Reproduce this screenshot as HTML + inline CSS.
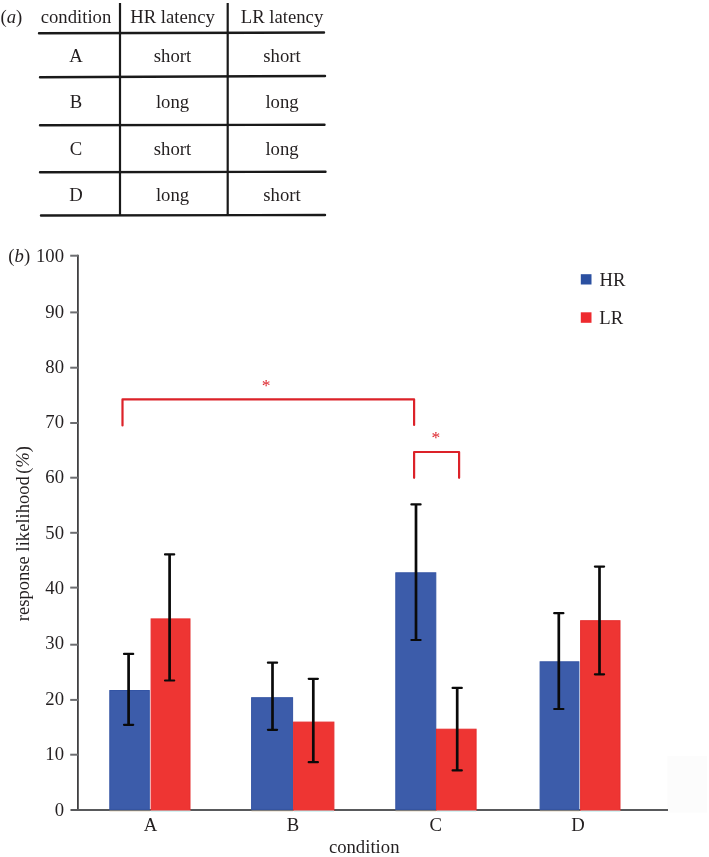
<!DOCTYPE html>
<html>
<head>
<meta charset="utf-8">
<title>Figure</title>
<style>
html,body{margin:0;padding:0;background:#fff;}
body{width:709px;height:857px;overflow:hidden;}
svg{display:block;will-change:transform;}
text{font-family:"Liberation Serif","Times New Roman",serif;font-size:18.7px;fill:#231f20;}
.i{font-style:italic;}
.m{text-anchor:middle;}
.e{text-anchor:end;}
</style>
</head>
<body>
<svg width="709" height="857" viewBox="0 0 709 857">
<rect width="709" height="857" fill="#fff"/>

<!-- (a) table -->
<text x="0.5" y="23.3">(<tspan class="i">a</tspan>)</text>
<g stroke="#1a1a1a" stroke-width="2.4" stroke-linecap="round" fill="none">
  <line x1="39" y1="33.3" x2="324" y2="32.5"/>
  <line x1="40" y1="77.3" x2="325" y2="76"/>
  <line x1="40" y1="125.2" x2="324.5" y2="124.8"/>
  <line x1="40" y1="172.2" x2="325.5" y2="171.8"/>
  <line x1="41" y1="215.5" x2="325" y2="215"/>
</g>
<g stroke="#1a1a1a" stroke-width="2.2" fill="none">
  <line x1="120" y1="3" x2="120" y2="215"/>
  <line x1="227.7" y1="3" x2="227.7" y2="215"/>
</g>
<text x="76" y="23.4" class="m">condition</text>
<text x="172.5" y="23.4" class="m">HR latency</text>
<text x="282" y="23.4" class="m">LR latency</text>
<text x="76" y="62" class="m">A</text>
<text x="172.5" y="62" class="m">short</text>
<text x="282" y="62" class="m">short</text>
<text x="76" y="108" class="m">B</text>
<text x="172.5" y="108" class="m">long</text>
<text x="282" y="108" class="m">long</text>
<text x="76" y="155" class="m">C</text>
<text x="172.5" y="155" class="m">short</text>
<text x="282" y="155" class="m">long</text>
<text x="76" y="201.1" class="m">D</text>
<text x="172.5" y="201.1" class="m">long</text>
<text x="282" y="201.1" class="m">short</text>

<!-- (b) chart -->
<text x="8.3" y="262.2">(<tspan class="i">b</tspan>)</text>

<rect x="667.5" y="756" width="39.5" height="56.5" fill="#fcfcfc"/>


<!-- axes -->
<line x1="77.9" y1="254.8" x2="77.9" y2="810.9" stroke="#414042" stroke-width="1.8"/>
<line x1="70.5" y1="810" x2="668" y2="810" stroke="#58595b" stroke-width="1.8"/>
<g stroke="#6d6e71" stroke-width="2">
  <line x1="70.2" y1="255.7" x2="78" y2="255.7"/>
  <line x1="70.2" y1="312.4" x2="78" y2="312.4"/>
  <line x1="70.2" y1="367.7" x2="78" y2="367.7"/>
  <line x1="70.2" y1="423.0" x2="78" y2="423.0"/>
  <line x1="70.2" y1="477.7" x2="78" y2="477.7"/>
  <line x1="70.2" y1="532.8" x2="78" y2="532.8"/>
  <line x1="70.2" y1="587.6" x2="78" y2="587.6"/>
  <line x1="70.2" y1="644.7" x2="78" y2="644.7"/>
  <line x1="70.2" y1="699.9" x2="78" y2="699.9"/>
  <line x1="70.2" y1="754.7" x2="78" y2="754.7"/>
</g>
<g class="e">
  <text x="64" y="262.1" class="e">100</text>
  <text x="64" y="317.7" class="e">90</text>
  <text x="64" y="372.8" class="e">80</text>
  <text x="64" y="428.3" class="e">70</text>
  <text x="64" y="483.2" class="e">60</text>
  <text x="64" y="538.6" class="e">50</text>
  <text x="64" y="593.8" class="e">40</text>
  <text x="64" y="649.4" class="e">30</text>
  <text x="64" y="704.6" class="e">20</text>
  <text x="64" y="760.1" class="e">10</text>
  <text x="64" y="815.5" class="e">0</text>
</g>

<!-- bars -->
<g>
  <rect x="109.8" y="690.5" width="39.5" height="118.9" fill="#3c5caa" stroke="#3354a4" stroke-width="1"/>
  <rect x="151.1" y="618.9" width="38.9" height="191.6" fill="#ee3533" stroke="#e62f2f" stroke-width="1"/>
  <rect x="251.6" y="697.7" width="41.0" height="111.7" fill="#3c5caa" stroke="#3354a4" stroke-width="1"/>
  <rect x="293.6" y="722.1" width="40.3" height="88.4" fill="#ee3533" stroke="#e62f2f" stroke-width="1"/>
  <rect x="395.8" y="572.8" width="40.0" height="236.6" fill="#3c5caa" stroke="#3354a4" stroke-width="1"/>
  <rect x="436.5" y="729.2" width="39.6" height="81.3" fill="#ee3533" stroke="#e62f2f" stroke-width="1"/>
  <rect x="540.1" y="661.8" width="38.8" height="147.6" fill="#3c5caa" stroke="#3354a4" stroke-width="1"/>
  <rect x="580.6" y="620.7" width="39.4" height="189.8" fill="#ee3533" stroke="#e62f2f" stroke-width="1"/>
</g>
<g stroke-width="1.1">
  <path d="M150.5 811.1H190.5M293.5 811.1H334M436.5 811.1H476.3M580.5 811.1H620.3" stroke="#c4eeee"/>
  <path d="M109.5 811.4H150M251.5 811.4H293M395.5 811.4H436M540 811.4H579.5" stroke="#efe9df"/>
</g>

<!-- error bars -->
<g stroke="#0a0a0a" fill="none">
  <g stroke-width="2.7">
    <line x1="128.6" y1="653.9" x2="128.6" y2="724.8"/>
    <line x1="169.6" y1="554.4" x2="169.6" y2="680.5"/>
    <line x1="272.5" y1="662.7" x2="272.5" y2="729.8"/>
    <line x1="313.3" y1="678.8" x2="313.3" y2="762.2"/>
    <line x1="416" y1="504.4" x2="416" y2="640"/>
    <line x1="457.2" y1="687.9" x2="457.2" y2="770.4"/>
    <line x1="558.8" y1="613.2" x2="558.8" y2="709"/>
    <line x1="599.5" y1="566.6" x2="599.5" y2="674.3"/>
  </g>
  <g stroke-width="2.2" stroke-linecap="round">
    <path d="M124.0 653.9h9.2M124.0 724.8h9.2"/>
    <path d="M165.0 554.4h9.2M165.0 680.5h9.2"/>
    <path d="M267.9 662.7h9.2M267.9 729.8h9.2"/>
    <path d="M308.7 678.8h9.2M308.7 762.2h9.2"/>
    <path d="M411.4 504.4h9.2M411.4 640h9.2"/>
    <path d="M452.6 687.9h9.2M452.6 770.4h9.2"/>
    <path d="M554.2 613.2h9.2M554.2 709h9.2"/>
    <path d="M594.9 566.6h9.2M594.9 674.3h9.2"/>
  </g>
</g>

<!-- significance brackets -->
<g stroke="#dc2229" stroke-width="2.2" fill="none" stroke-linejoin="round" stroke-linecap="round">
  <path d="M122.5 425.5V399.3H414.1V425"/>
  <path d="M414.1 477.8V452H459.1V477.8"/>
</g>
<text x="266" y="391" class="m" style="fill:#dc2229;font-size:17.5px">*</text>
<text x="435.9" y="443" class="m" style="fill:#dc2229;font-size:17.5px">*</text>

<!-- legend -->
<rect x="580.8" y="274.2" width="10.7" height="10.3" fill="#2b50a1"/>
<rect x="580.8" y="312.3" width="10.7" height="10.5" fill="#ee2a2f"/>
<text x="599.5" y="286.2">HR</text>
<text x="599.3" y="324.3">LR</text>

<!-- axis labels -->
<text x="150.5" y="830.7" class="m">A</text>
<text x="293" y="830.7" class="m">B</text>
<text x="435.7" y="830.7" class="m">C</text>
<text x="578" y="830.7" class="m">D</text>
<text x="364.2" y="852.6" class="m">condition</text>
<text transform="translate(28.8 621.2) rotate(-90)" style="font-size:18.6px">response likelihood <tspan dx="-2.4">(</tspan><tspan class="i">%</tspan>)</text>
</svg>
</body>
</html>
